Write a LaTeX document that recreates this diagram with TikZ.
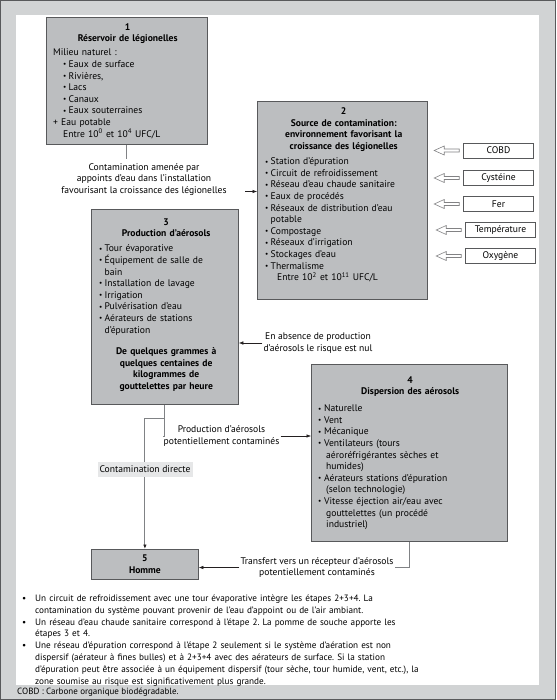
\documentclass[tikz,border=0pt]{standalone}
\usepackage{fontspec}
\setmainfont{PT Sans}
\usetikzlibrary{arrows.meta,calc}
\definecolor{framegray}{HTML}{D1D3D4}
\definecolor{boxgray}{HTML}{BCBEC0}
\definecolor{boxedge}{HTML}{58595B}
\definecolor{linegray}{HTML}{808285}
\definecolor{labelgray}{HTML}{E6E7E8}
\definecolor{inkc}{HTML}{231F20}
\setlength{\parindent}{0pt}
\frenchspacing
\newcommand\smallbullet{\raisebox{0.7pt}{\fontsize{7.2}{8}\selectfont\textbullet}}
\newcommand\bul[1]{\par\noindent\hangindent=5.5pt\hangafter=1\makebox[5.5pt][l]{\smallbullet}#1}
\newcommand\bulb[1]{\par\noindent\hangindent=8pt\hangafter=1\makebox[6pt][l]{\smallbullet}#1}
\newcommand\noteitem[1]{\par\noindent\hangindent=13pt\hangafter=1\makebox[13pt][l]{\textbullet}\strut#1}
\newcommand\hollowarrow[1]{\draw[hollow] ([xshift=-4pt,yshift=1.5pt]#1.west) -- ++(-15,0) -- ++(0,-3) -- ++(-10,4.5) -- ++(10,4.5) -- ++(0,-3) -- ++(15,0) -- cycle;}
\begin{document}
\begin{tikzpicture}[x=1pt,y=-1pt,
  gbox/.style={draw=boxedge, fill=boxgray, line width=0.8pt, anchor=north west, inner sep=0pt},
  btxt/.style={anchor=north west, inner sep=0pt, align=left, font=\fontsize{9.6}{11.6}\selectfont},
  lbl/.style={font=\fontsize{9.6}{11.6}\selectfont, align=center, inner sep=1pt},
  fac/.style={draw=boxedge, fill=white, line width=0.6pt, minimum width=70pt, minimum height=15pt, inner sep=0pt, font=\fontsize{9.6}{11}\selectfont},
  conn/.style={draw=linegray, line width=1pt},
  arr/.style={draw=inkc, line width=0.5pt, -{Latex[length=4.5pt,width=3.5pt]}},
  hollow/.style={draw=boxedge!75, fill=white, line width=0.6pt, line join=miter}]
\useasboundingbox (0,0) rectangle (556,700);
\fill[framegray] (0,0) rectangle (556,700);
\draw[boxedge, line width=1pt] (0.5,0.5) rectangle (555.5,699.5);
\fill[white] (16,15) rectangle (539,685);

% boxes
\node[gbox, minimum width=161pt, minimum height=127pt] (b1) at (46,17) {};
\node[gbox, minimum width=170pt, minimum height=198pt] (b2) at (257,101) {};
\node[gbox, minimum width=147pt, minimum height=195pt] (b3) at (91,209) {};
\node[gbox, minimum width=196pt, minimum height=177pt] (b4) at (311,364) {};
\node[gbox, minimum width=107pt, minimum height=30pt] (b5) at (91,549) {};

\node[btxt, text width=149pt] (t1) at (53,21.9) {\strut{\centering\bfseries 1\\Réservoir de légionelles\par}\vspace{2.4pt}%
Milieu naturel :\par\leftskip=10pt\relax
\bul{Eaux de surface}\bul{Rivières,}\bul{Lacs}\bul{Canaux}\bul{Eaux souterraines}\par\leftskip=0pt\relax
+ Eau potable\newline\hspace*{10pt}Entre 10\textsuperscript{0} et 10\textsuperscript{4} UFC/L\par};

\node[btxt, text width=157pt] (t2) at (265,106.4) {\strut{\centering\bfseries 2\\Source de contamination:\\environnement favorisant la\\croissance des légionelles\par}\vspace{3.6pt}%
\bul{Station d’épuration}\bul{Circuit de refroidissement}\bul{Réseau d’eau chaude sanitaire}\bul{Eaux de procédés}\bul{Réseaux de distribution d’eau\newline potable}\bul{Compostage}\bul{Réseaux d’irrigation}\bul{Stockages d’eau}\bul{Thermalisme}\par
\hspace*{12pt}Entre 10\textsuperscript{2} et 10\textsuperscript{11} UFC/L\par};

\node[btxt, text width=134pt] (t3) at (99,216.9) {\strut{\centering\bfseries 3\\Production d’aérosols\par}\vspace{3.4pt}%
\bul{Tour évaporative}\bul{Équipement de salle de\newline bain}\bul{Installation de lavage}\bul{Irrigation}\bul{Pulvérisation d’eau}\bul{Aérateurs de stations\newline d’épuration}\par\vspace{10pt}%
{\centering\bfseries De quelques grammes à\\quelques centaines de\\kilogrammes de\\gouttelettes par heure\par}};

\node[btxt, text width=184pt] (t4) at (318,374.9) {\strut{\centering\bfseries 4\\Dispersion des aérosols\par}\vspace{5.3pt}%
\bulb{Naturelle}\bulb{Vent}\bulb{Mécanique}\bulb{Ventilateurs (tours\newline aéroréfrigérantes sèches et\newline humides)}\bulb{Aérateurs stations d’épuration\newline (selon technologie)}\bulb{Vitesse éjection air/eau avec\newline gouttelettes (un procédé\newline industriel)}\par};

\node[lbl, font=\fontsize{9.6}{11.6}\selectfont\bfseries] (t5) at (b5.center) {5\\Homme};

% factors
\node[fac] (f1) at (498.5,150.5) {COBD};
\node[fac] (f2) at (498.5,178) {Cystéine};
\node[fac] (f3) at (498.5,204) {Fer};
\node[fac] (f4) at (500.5,230) {Température};
\node[fac] (f5) at (500.5,256) {Oxygène};
\foreach \f in {f1,f2,f3,f4,f5} {\hollowarrow{\f}}

% labels
\node[lbl, fill=white] (lbl1) at (144,179.5) {Contamination amenée par\\appoints d’eau dans l’installation\\favourisant la croissance des légionelles};
\node[lbl] (lbl3) at (318,343) {En absence de production\\d’aérosols le risque est nul};
\node[lbl, fill=white] (lbl4) at (221.5,436) {Production d’aérosols\\potentiellement contaminés};
\node[lbl, fill=white] (lbl5) at (317,567.5) {Transfert vers un récepteur d’aérosols\\potentiellement contaminés};

% connectors
\coordinate (c1) at ($(b1.south)+(0,14)$);
\draw[conn] (b1.south) -- (c1);
\coordinate (a1) at (245,191.5);
\draw[arr] (a1) -- (a1 -| b2.west);
\draw[arr] (lbl3.west) -- (lbl3.west -| b3.east);
\coordinate (j3) at ($(b3.south)+(0,14)$);
\draw[conn] (b3.south) |- (lbl4.west);
\draw[conn, -{Latex[length=4.5pt,width=3.5pt,color=inkc]}] (j3) -| (b5.north);
\node[lbl, fill=labelgray, minimum width=95pt, minimum height=15pt] (cd) at (145,469.5) {Contamination directe};
\draw[arr] (lbl4.east) -- (lbl4.east -| b4.west);
\draw[conn] (b4.south) |- (lbl5.east);
\draw[arr] (lbl5.west) -- (lbl5.west -| b5.east);

% notes
\node[btxt, text width=505pt, font=\fontsize{9.2}{11.8}\selectfont] (notes) at (22,589.5) {%
\noteitem{Un circuit de refroidissement avec une tour évaporative intègre les étapes 2+3+4. La\newline contamination du système pouvant provenir de l’eau d’appoint ou de l’air ambiant.}%
\noteitem{Un réseau d’eau chaude sanitaire correspond à l’étape 2. La pomme de souche apporte les\newline étapes 3 et 4.}%
\noteitem{Une réseau d’épuration correspond à l’étape 2 seulement si le système d’aération est non\newline dispersif (aérateur à fines bulles) et à 2+3+4 avec des aérateurs de surface. Si la station\newline d’épuration peut être associée à un équipement dispersif (tour sèche, tour humide, vent, etc.), la\newline zone soumise au risque est significativement plus grande.}\par};
\node[anchor=base west, inner sep=0pt, font=\fontsize{9}{11}\selectfont] (foot) at (17,694.5) {COBD : Carbone organique biodégradable.};
\end{tikzpicture}
\end{document}
